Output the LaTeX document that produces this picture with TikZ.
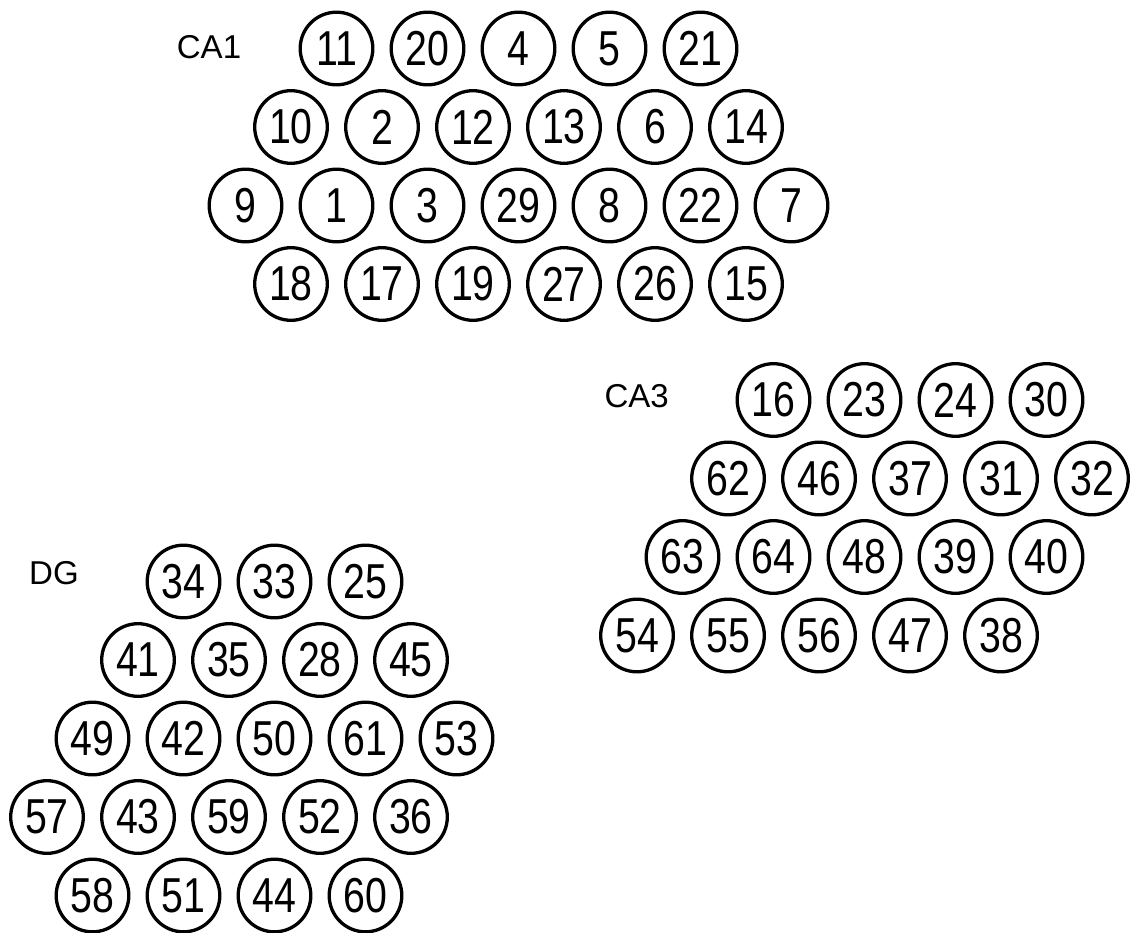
\documentclass[tikz,border=0pt]{standalone}
\usepackage{fontspec}
\setmainfont{Liberation Sans}
\newfontfamily\cellfont[FakeStretch=0.8]{Liberation Sans}

\begin{document}
\begin{tikzpicture}[
        x=0.025cm, y=-0.025cm,
        cell/.style={draw, circle, line width=0.0825cm, minimum size=1.815cm, inner sep=0pt, font=\cellfont\fontsize{34.9}{36}\selectfont},
        region/.style={inner sep=0pt, font=\fontsize{23.5}{26}\selectfont}
    ]
        \useasboundingbox (0,0) rectangle (1132,933);

        % CA1
        \node[region] (ca1) at (209,46.7) {CA1};
        \foreach \n [count=\i from 0] in {11,20,4,5,21}
            \node[cell] (c\n) at (336.5+91*\i,48.5) {\n};
        \foreach \n [count=\i from 0] in {10,2,12,13,6,14}
            \node[cell] (c\n) at (291+91*\i,127) {\n};
        \foreach \n [count=\i from 0] in {9,1,3,29,8,22,7}
            \node[cell] (c\n) at (245.5+91*\i,205.5) {\n};
        \foreach \n [count=\i from 0] in {18,17,19,27,26,15}
            \node[cell] (c\n) at (291+91*\i,284) {\n};

        % CA3
        \node[region] (ca3) at (636.7,395.8) {CA3};
        \foreach \n [count=\i from 0] in {16,23,24,30}
            \node[cell] (c\n) at (773.5+91*\i,400) {\n};
        \foreach \n [count=\i from 0] in {62,46,37,31,32}
            \node[cell] (c\n) at (728+91*\i,478.5) {\n};
        \foreach \n [count=\i from 0] in {63,64,48,39,40}
            \node[cell] (c\n) at (682.5+91*\i,557) {\n};
        \foreach \n [count=\i from 0] in {54,55,56,47,38}
            \node[cell] (c\n) at (637+91*\i,635.5) {\n};

        % DG
        \node[region] (dg) at (54,573.3) {DG};
        \foreach \n [count=\i from 0] in {34,33,25}
            \node[cell] (c\n) at (183.5+91*\i,581.5) {\n};
        \foreach \n [count=\i from 0] in {41,35,28,45}
            \node[cell] (c\n) at (138+91*\i,660) {\n};
        \foreach \n [count=\i from 0] in {49,42,50,61,53}
            \node[cell] (c\n) at (92.5+91*\i,738.5) {\n};
        \foreach \n [count=\i from 0] in {57,43,59,52,36}
            \node[cell] (c\n) at (47+91*\i,817) {\n};
        \foreach \n [count=\i from 0] in {58,51,44,60}
            \node[cell] (c\n) at (92.5+91*\i,895.5) {\n};
    \end{tikzpicture}
\end{document}
